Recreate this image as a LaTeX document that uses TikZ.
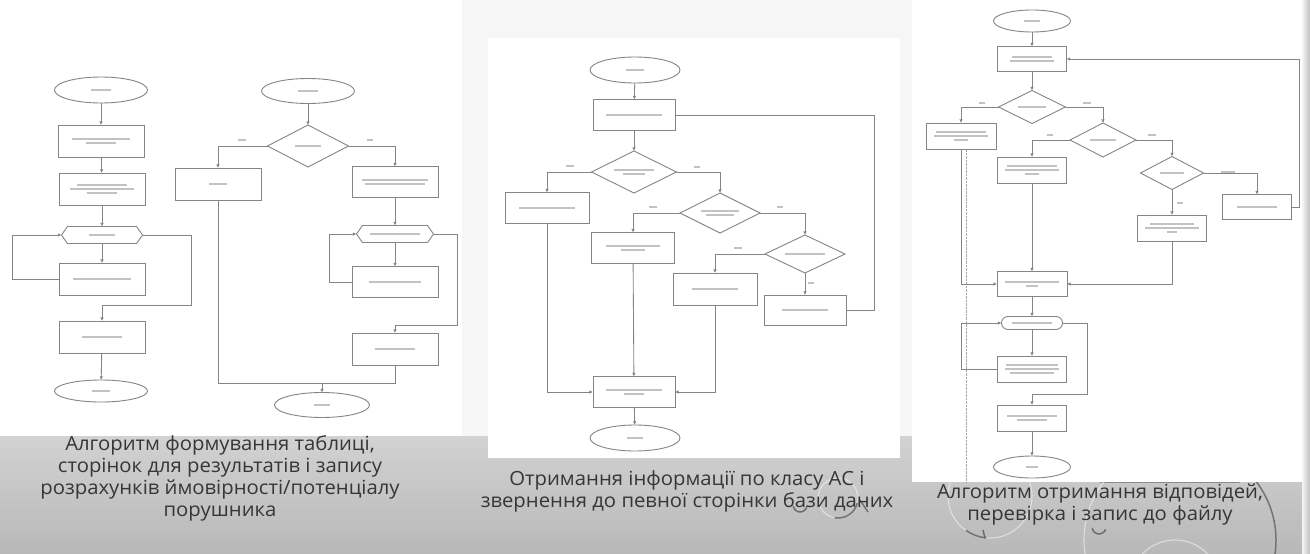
\documentclass[tikz,border=0pt]{standalone}
\usepackage{fontspec}
\setmainfont{Open Sans}[FakeStretch=1.04]
\usetikzlibrary{shapes.geometric,shapes.misc,shapes.symbols,arrows.meta,calc}
\definecolor{lc}{HTML}{858585}
\definecolor{tb}{HTML}{C2C2C2}
\definecolor{capc}{HTML}{363636}
\definecolor{bgc}{HTML}{F6F6F6}
\definecolor{bandT}{HTML}{D2D2D2}
\definecolor{bandB}{HTML}{B8B8B8}
\newcommand\gb[1]{\textcolor{tb}{\rule{#1pt}{1.7pt}}}
\begin{document}
\begin{tikzpicture}[x=1pt,y=-1pt,
  ln/.style={draw=lc,line width=0.85pt},
  arr/.style={ln,-{Latex[length=3.6pt,width=3.4pt]}},
  base/.style={draw=lc,line width=0.9pt,fill=white,inner sep=0pt,outer sep=0pt},
  sz/.style 2 args={minimum width=#1pt,minimum height=#2pt},
  term/.style={base,ellipse},
  proc/.style={base,rectangle},
  dec/.style={base,diamond},
  prep/.style={base,signal,signal to=west and east,signal pointer angle=110},
  rprep/.style={base,rounded rectangle},
  lbl/.style={inner sep=0pt,align=center,font=\fontsize{4.5}{5}\selectfont},
  t/.style={label={[lbl]center:{#1}}},
  yn/.style={inner sep=0pt,font=\fontsize{4}{4}\selectfont},
  capt/.style={align=center,text=capc,inner sep=0pt,font=\fontsize{19.5}{22}\selectfont},
  deco/.style={draw=white,line width=1.1pt,opacity=0.5},
  decod/.style={draw=black!65,line width=1.5pt,opacity=0.8}
]
\useasboundingbox (0,0) rectangle (1310,554);
% background
\fill[bgc] (0,0) rectangle (1310,554);
\shade[top color=bandT,bottom color=bandB] (0,436) rectangle (1310,554);
\fill[white] (0,0) rectangle (462,436);
\fill[white] (488,38) rectangle (900,458);
\fill[white] (912,0) rectangle (1302,482);
\shade[left color=bgc,right color=black!25] (1302,0) rectangle (1310,554);
\draw[densely dotted,black!35] (966,150) -- (966,482);
\draw[black!45,line width=0.6pt] (1100,482) -- (1240,482);

% ================= decorations (theme circles in the band) =================
\begin{scope}
\clip (0,436) -- (488,436) -- (488,458) -- (912,458) -- (912,482) -- (1302,482) -- (1302,554) -- (0,554) -- cycle;
\draw[deco] (838,498) circle (20);
\draw[decod] (838,498) ++(15:20) arc (15:100:20);
\draw[decod] (860,500) -- (868,512);
\draw[decod] (800,505) ++(10:7) arc (10:170:7);
\draw[deco] (990,496) circle (42);
\draw[decod] (990,496) ++(95:42) arc (95:125:42);
\draw[decod] (983,530) -- (985,538);
\draw[decod] (1099,527) ++(20:7) arc (20:170:7);
\draw[deco] (1180,540) circle (96);
\draw[deco] (1175,585) circle (45);
\draw[decod] (1180,540) ++(-50:96) arc (-50:10:96);
\end{scope}

% ================= chart 1 =================
\node[term,sz={93}{26},t={\gb{20}}] (a0) at (101,90) {};
\node[proc,sz={86}{32},t={\gb{58}\\[-1pt]\gb{30}}] (a1) at (101,141) {};
\node[proc,sz={86}{32},t={\gb{50}\\[-1pt]\gb{64}\\[-1pt]\gb{30}}] (a2) at (102,189) {};
\node[prep,sz={81}{17},t={\gb{26}}] (a3) at (102,235) {};
\node[proc,sz={86}{32},t={\gb{58}}] (a4) at (102,279) {};
\node[proc,sz={86}{32},t={\gb{40}}] (a5) at (102,337) {};
\node[term,sz={93}{22},t={\gb{18}}] (a6) at (101,391) {};
\draw[arr] (a0) -- (a1);
\draw[arr] (a1) -- (a2);
\draw[arr] (a2) -- (a3);
\draw[arr] (a3) -- (a4);
\draw[arr] (a4.west) -- ++(-47,0) |- (a3.west);
\draw[arr] (a3.east) -- ++(49,0) |- ([yshift=16pt]a5.north) -- (a5.north);
\draw[arr] (a5) -- (a6);

% ================= chart 2 =================
\node[term,sz={93}{25},t={\gb{20}}] (b0) at (308,91) {};
\node[dec,sz={81}{42},t={\gb{26}}] (b1) at (308,146) {};
\node[proc,sz={86}{32},t={\gb{18}}] (b2) at (218,184) {};
\node[proc,sz={86}{31},t={\gb{66}\\[-1pt]\gb{60}}] (b3) at (395,182) {};
\node[prep,sz={77}{17},t={\gb{50}}] (b4) at (395,234) {};
\node[proc,sz={86}{31},t={\gb{52}}] (b5) at (395,282) {};
\node[proc,sz={86}{32},t={\gb{40}}] (b6) at (395,349) {};
\node[term,sz={95}{25},t={\gb{16}}] (b7) at (322,405) {};
\coordinate (bj) at (322,383);
\draw[arr] (b0) -- (b1);
\draw[arr] (b1.west) -| (b2.north);
\draw[arr] (b1.east) -| (b3.north);
\draw[arr] (b3) -- (b4);
\draw[arr] (b4) -- (b5);
\draw[arr] (b5.west) -- ++(-23,0) |- (b4.west);
\draw[arr] (b4.east) -- ++(24,0) |- ([yshift=8pt]b6.north) -- (b6.north);
\draw[ln] (b2.south) |- (bj);
\draw[ln] (b6.south) |- (bj);
\draw[arr] (bj) -- (b7.north);
\node[yn] (b1l) at (242,140) {\gb{8}};
\node[yn] (b1r) at (370,140) {\gb{6}};

% ================= chart 3 =================
\node[term,sz={90}{26},t={\gb{18}}] (c0) at (635,70) {};
\node[proc,sz={82}{31},t={\gb{56}}] (c1) at (634,115) {};
\node[dec,sz={85}{42},t={\gb{40}\\[-1pt]\gb{22}}] (c2) at (634,172) {};
\node[proc,sz={84}{31},t={\gb{56}}] (c3) at (547,208) {};
\node[dec,sz={80}{40},t={\gb{38}\\[-1pt]\gb{28}}] (c4) at (720,213) {};
\node[proc,sz={83}{31},t={\gb{54}\\[-1pt]\gb{24}}] (c5) at (633,248) {};
\node[dec,sz={80}{38},t={\gb{40}}] (c6) at (805,254) {};
\node[proc,sz={84}{32},t={\gb{46}}] (c7) at (715,289) {};
\node[proc,sz={82}{30},t={\gb{46}}] (c8) at (805,310) {};
\node[proc,sz={82}{31},t={\gb{56}\\[-1pt]\gb{20}}] (c9) at (634,392) {};
\node[term,sz={90}{26},t={\gb{16}}] (c10) at (635,438) {};
\draw[arr] (c0) -- (c1);
\draw[arr] (c1) -- (c2);
\draw[arr] (c2.west) -| (c3.north);
\draw[arr] (c2.east) -| (c4.north);
\draw[arr] (c4.west) -| (c5.north);
\draw[arr] (c4.east) -| (c6.north);
\draw[arr] (c6.west) -| (c7.north);
\draw[arr] (c6) -- (c8);
\draw[ln] (c8.east) -- ++(28,0) |- (c1.east);
\draw[arr] (c7.south) |- (c9.east);
\draw[arr] (c5) -- (c9);
\draw[arr] (c3.south) |- (c9.west);
\draw[arr] (c9) -- (c10);
\node[yn] (c2l) at (570,166) {\gb{8}};
\node[yn] (c2r) at (697,167) {\gb{6}};
\node[yn] (c4l) at (653,207) {\gb{8}};
\node[yn] (c4r) at (780,207) {\gb{6}};
\node[yn] (c6l) at (738,248) {\gb{8}};
\node[yn] (c6b) at (811,283) {\gb{6}};

% ================= chart 4 =================
\node[term,sz={77}{22},t={\gb{16}}] (d0) at (1032,21) {};
\node[proc,sz={69}{25},t={\gb{40}\\[-1pt]\gb{44}}] (d1) at (1032,59) {};
\node[dec,sz={67}{33},t={\gb{28}}] (d2) at (1032,107) {};
\node[proc,sz={70}{26},t={\gb{50}\\[-1pt]\gb{54}\\[-1pt]\gb{14}}] (d3) at (961,136) {};
\node[dec,sz={66}{34},t={\gb{26}}] (d4) at (1103,140) {};
\node[proc,sz={69}{26},t={\gb{50}\\[-1pt]\gb{54}\\[-1pt]\gb{14}}] (d5) at (1032,170) {};
\node[dec,sz={63}{33},t={\gb{24}}] (d6) at (1172,173) {};
\node[proc,sz={69}{25},t={\gb{40}}] (d7) at (1257,207) {};
\node[proc,sz={69}{26},t={\gb{44}\\[-1pt]\gb{54}\\[-1pt]\gb{10}}] (d8) at (1172,228) {};
\node[proc,sz={70}{25},t={\gb{54}\\[-1pt]\gb{12}}] (d9) at (1032,284) {};
\node[rprep,sz={61}{13},t={\gb{40}}] (d10) at (1032,323) {};
\node[proc,sz={69}{26},t={\gb{52}\\[-1pt]\gb{54}\\[-1pt]\gb{44}}] (d11) at (1032,369) {};
\node[proc,sz={69}{26},t={\gb{50}\\[-1pt]\gb{30}}] (d12) at (1032,418) {};
\node[term,sz={77}{22},t={\gb{12}}] (d13) at (1032,467) {};
\draw[arr] (d0) -- (d1);
\draw[arr] (d1) -- (d2);
\draw[arr] (d2.west) -| (d3.north);
\draw[arr] (d2.east) -| (d4.north);
\draw[arr] (d4.west) -| (d5.north);
\draw[arr] (d4.east) -| (d6.north);
\draw[arr] (d6.east) -| (d7.north);
\draw[arr] (d6) -- (d8);
\draw[arr] (d3.south) |- (d9.west);
\draw[arr] (d5) -- (d9);
\draw[arr] (d8.south) |- (d9.east);
\draw[arr] (d7.east) -- ++(8,0) |- (d1.east);
\draw[arr] (d9) -- (d10);
\draw[arr] (d10) -- (d11);
\draw[arr] (d11.west) -- ++(-36,0) |- (d10.west);
\draw[arr] (d10.east) -- ++(25,0) |- ([yshift=11pt]d12.north) -- (d12.north);
\draw[arr] (d12) -- (d13);
\node[yn] (d2l) at (982,103) {\gb{6}};
\node[yn] (d2r) at (1087,103) {\gb{8}};
\node[yn] (d4l) at (1050,135) {\gb{6}};
\node[yn] (d4r) at (1152,135) {\gb{8}};
\node[yn] (d6r) at (1228,172) {\gb{14}};
\node[yn] (d6b) at (1180,203) {\gb{6}};

% ================= captions =================
\node[capt,anchor=north] (cap1) at (220,435) {Алгоритм формування таблиці,\\сторінок для результатів і запису\\розрахунків ймовірності/потенціалу\\порушника};
\node[capt,anchor=north] (cap2) at (687,470) {Отримання інформації по класу АС і\\звернення до певної сторінки бази даних};
\node[capt,anchor=north] (cap3) at (1100,484) {Алгоритм отримання відповідей,\\перевірка і запис до файлу};
\end{tikzpicture}
\end{document}
